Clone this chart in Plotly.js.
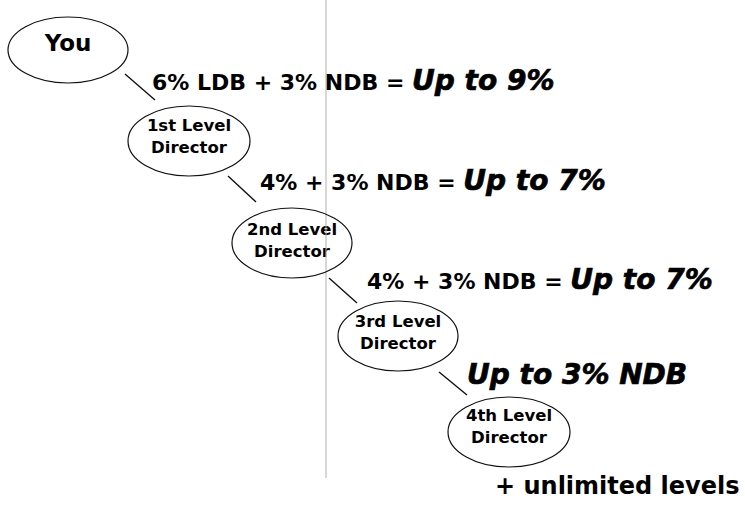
<!DOCTYPE html>
<html>
<head>
<meta charset="utf-8">
<script src="https://cdn.plot.ly/plotly-3.0.1.min.js"></script>
<style>html,body{margin:0;padding:0;background:#fff;}#chart{width:745px;height:506px;}</style>
</head>
<body>
<div id="chart"></div>
<script>
// ---- data ----
const levels = ["You", "1st Level<br>Director", "2nd Level<br>Director", "3rd Level<br>Director", "4th Level<br>Director"];
const payoutBase = ["6% LDB + 3% NDB = ", "4% + 3% NDB = ", "4% + 3% NDB = ", ""];
const payoutTotal = ["Up to 9%", "Up to 7%", "Up to 7%", "Up to 3% NDB"];
const footerText = "+ unlimited levels";

// ---- layout geometry (pixel-like coordinates) ----
const nodeX = [68, 189, 292, 398, 509];
const nodeY = [50, 141, 243, 336, 432];
const nodeRx = [60, 61, 60, 60, 61];
const nodeRy = [33, 35, 35, 35, 35];
const nodeFont = [23, 16.5, 16.5, 16.5, 16.5];
const nodeTextDy = [-5, -3, -1, -2, -4];
const linkFrom = [[125, 74], [228, 176], [329, 278], [439, 372]];
const linkTo = [[155, 100], [256, 202], [357, 303], [467, 395]];
const labelX = [150, 258, 365, 465];
const labelY = [80, 180, 279, 374];

const shapes = [];
// vertical divider
shapes.push({type: 'line', xref: 'x', yref: 'y', x0: 326, x1: 326, y0: 0, y1: 478,
  line: {color: '#b0b0b0', width: 1}});
levels.forEach((l, i) => {
  shapes.push({type: 'circle', xref: 'x', yref: 'y',
    x0: nodeX[i] - nodeRx[i], x1: nodeX[i] + nodeRx[i],
    y0: nodeY[i] - nodeRy[i], y1: nodeY[i] + nodeRy[i],
    line: {color: '#111', width: 1.2}, fillcolor: 'rgba(0,0,0,0)'});
});
linkFrom.forEach((p, i) => {
  shapes.push({type: 'line', xref: 'x', yref: 'y', x0: p[0], y0: p[1], x1: linkTo[i][0], y1: linkTo[i][1],
    line: {color: '#111', width: 1.4}});
});

const heavy = 'font-family:DejaVu Sans;font-weight:700;font-style:italic;font-size:28px;stroke:#000;stroke-width:0.7px';
const annotations = payoutTotal.map((t, i) => ({
  xref: 'x', yref: 'y', x: labelX[i], y: labelY[i], xanchor: 'left', yanchor: 'middle',
  showarrow: false,
  text: payoutBase[i] + '<span style="' + heavy + '">' + t + '</span>',
  font: {family: 'DejaVu Sans', size: 22, color: '#000', weight: 700}
}));
annotations.push({xref: 'x', yref: 'y', x: 742, y: 486, xanchor: 'right', yanchor: 'middle',
  showarrow: false, text: footerText,
  font: {family: 'DejaVu Sans', size: 24, color: '#000', weight: 700}});

const trace = {
  type: 'scatter', mode: 'text',
  x: nodeX, y: nodeY.map((v, i) => v + nodeTextDy[i]),
  text: levels,
  textposition: 'middle center',
  textfont: {family: 'DejaVu Sans', size: nodeFont, color: '#000', weight: 700},
  hoverinfo: 'skip', showlegend: false
};

const layout = {
  width: 745, height: 506,
  margin: {l: 0, r: 0, t: 0, b: 0, pad: 0},
  paper_bgcolor: '#fff', plot_bgcolor: '#fff',
  xaxis: {range: [0, 745], visible: false, fixedrange: true},
  yaxis: {range: [506, 0], visible: false, fixedrange: true},
  shapes: shapes,
  annotations: annotations,
  showlegend: false
};

Plotly.newPlot('chart', [trace], layout, {staticPlot: true, displayModeBar: false});
</script>
</body>
</html>
